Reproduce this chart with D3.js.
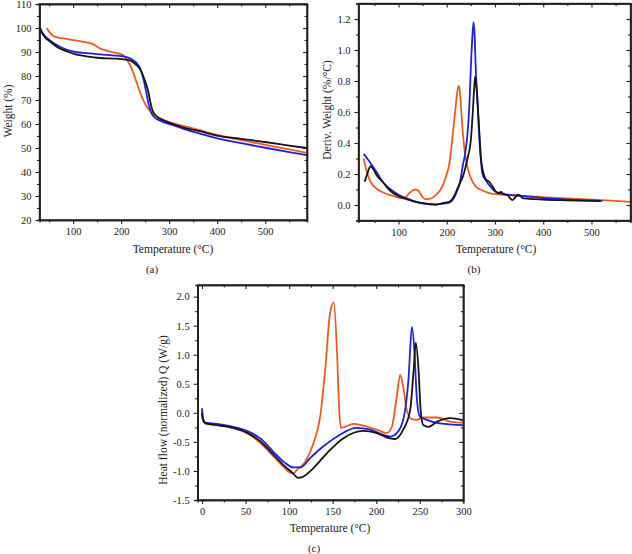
<!DOCTYPE html>
<html>
<head>
<meta charset="utf-8">
<script src="https://cdn.jsdelivr.net/npm/d3@7"></script>
<style>
  body { margin: 0; background: #fff; }
  text { font-family: "Liberation Serif", "DejaVu Serif", serif; fill: #222; }
  .domain { stroke: #222; stroke-width: 1.4; }
  .tick line { stroke: #222; stroke-width: 1.1; }
</style>
</head>
<body>
<script>
// TGA weight curves, panel (a): [temperature °C, weight %]
const tgaOrange = [[45,100],[50,98.5],[58,96.8],[70,96],[86,95.5],[105,94.8],[128,94],[142,93.2],[156,91.5],[175,90.3],[190,89.6],[205,88.5],[213,86.5],[220,84],[225,81.5],[232,77.5],[239,73.5],[246,70],[253,67.3],[260,65.5],[267,64.3],[280,62.5],[294,61.2],[330,59.2],[364,57.4],[400,55.5],[450,53.3],[503,51.2],[550,49.4],[587,48]];
const tgaBlue = [[30,100.5],[35,98.5],[42,96.5],[52,94.8],[65,93],[86,91],[105,90],[128,89.5],[156,89],[190,88.5],[210,88],[222,87],[232,85.5],[240,83],[246,79],[252,73.5],[257,68.5],[262,65],[268,63],[280,61.5],[308,59.5],[330,58],[364,56],[400,54],[450,52],[503,50],[550,48.3],[587,47]];
const tgaBlack = [[30,100],[35,98],[42,96],[52,94.4],[65,92.3],[86,90.3],[105,89],[128,88.2],[156,87.5],[190,87.2],[218,86.5],[232,84.5],[239,83],[246,80],[253,76],[257,73],[260,70],[264,66.5],[270,64],[280,62.3],[295,61],[308,60],[330,58.5],[364,57],[399,55.2],[450,53.8],[503,52.4],[550,51],[587,50]];

// DTG curves, panel (b): [temperature °C, deriv. weight %/°C]
const dtgOrange = [[28,0.30],[32,0.24],[39,0.17],[46,0.13],[53,0.11],[65,0.085],[81,0.065],[95,0.052],[108,0.043],[115,0.05],[122,0.075],[130,0.095],[136,0.10],[142,0.09],[150,0.05],[157,0.037],[165,0.04],[178,0.065],[191,0.12],[198,0.18],[205,0.26],[210,0.38],[214,0.5],[218,0.62],[221,0.71],[224.5,0.768],[227,0.74],[229,0.66],[232,0.52],[236,0.38],[240,0.29],[245,0.22],[252,0.16],[260,0.12],[270,0.1],[285,0.08],[300,0.07],[350,0.06],[400,0.05],[450,0.043],[500,0.035],[540,0.028],[580,0.02]];
const dtgBlue = [[28,0.33],[35,0.30],[42,0.27],[55,0.21],[67,0.15],[80,0.11],[101,0.065],[120,0.04],[136,0.02],[155,0.008],[170,0.003],[190,0.008],[205,0.015],[214,0.04],[220,0.08],[227,0.14],[233,0.25],[238,0.33],[243,0.46],[247,0.65],[250,0.89],[253,1.08],[255.5,1.18],[258,1.08],[260,0.89],[264,0.65],[267,0.46],[270,0.32],[274,0.2],[281,0.16],[290,0.12],[302,0.085],[320,0.07],[350,0.06],[400,0.045],[450,0.035],[500,0.03],[523,0.027]];
const dtgBlack = [[30,0.15],[35,0.2],[42,0.25],[48,0.23],[55,0.19],[67,0.15],[80,0.1],[101,0.055],[120,0.035],[136,0.02],[155,0.01],[170,0.005],[180,0.003],[191,0.012],[205,0.02],[214,0.05],[220,0.09],[227,0.14],[233,0.18],[243,0.3],[250,0.42],[254,0.6],[257,0.76],[259,0.83],[261,0.78],[264,0.66],[267,0.5],[271,0.3],[275,0.22],[280,0.17],[288,0.15],[295,0.12],[302,0.085],[308,0.075],[312,0.085],[318,0.07],[326,0.065],[331,0.045],[336,0.032],[341,0.045],[347,0.066],[352,0.06],[357,0.045],[370,0.04],[400,0.035],[450,0.03],[519,0.025]];

// DSC curves, panel (c): [temperature °C, heat flow W/g]
const dscOrange = [[0,0.05],[1,-0.12],[3.8,-0.18],[17,-0.21],[36,-0.26],[51.6,-0.35],[67,-0.52],[82,-0.75],[93.6,-0.93],[101,-1.03],[105,-1.04],[109,-0.98],[118.5,-0.84],[128,-0.52],[135.7,-0.06],[141.4,0.74],[147,1.72],[151.3,1.90],[155,1.03],[157.5,0.05],[159.4,-0.26],[164,-0.24],[174,-0.19],[185,-0.22],[200.6,-0.29],[212,-0.35],[218,-0.24],[223.6,0.28],[227.5,0.655],[231,0.45],[235,0.05],[241,-0.11],[246.5,-0.12],[254,-0.08],[270,-0.08],[284.8,-0.15],[300,-0.17]];
const dscBlue = [[0,0.08],[1,-0.1],[4,-0.17],[17,-0.19],[36,-0.24],[51.6,-0.31],[67,-0.44],[82,-0.67],[93.6,-0.84],[105,-0.94],[113,-0.94],[124,-0.78],[139,-0.58],[158,-0.38],[177,-0.26],[193,-0.29],[208,-0.38],[216,-0.41],[223.6,-0.35],[231,-0.12],[237,0.57],[241,1.48],[244,1.03],[246.5,0.28],[250,-0.06],[258,-0.12],[273,-0.18],[300,-0.21]];
const dscBlack = [[0,0.0],[1,-0.12],[4,-0.18],[17,-0.21],[36,-0.26],[51.6,-0.34],[67,-0.49],[82,-0.72],[93.6,-0.9],[105,-1.05],[110,-1.12],[116,-1.1],[128,-0.95],[143,-0.70],[162,-0.44],[185,-0.31],[200.6,-0.35],[216,-0.44],[221.6,-0.45],[231,-0.29],[239,0.05],[243,0.74],[245.5,1.21],[248.6,0.74],[251,0.05],[254,-0.21],[260,-0.24],[270,-0.15],[285,-0.09],[300,-0.13]];

// tick values
const tgaXTicks = [100, 200, 300, 400, 500];
const tgaYTicks = [20, 30, 40, 50, 60, 70, 80, 90, 100, 110];
const dtgXTicks = [100, 200, 300, 400, 500];
const dtgYTicks = [0.0, 0.2, 0.4, 0.6, 0.8, 1.0, 1.2];
const dscXTicks = [0, 50, 100, 150, 200, 250, 300];
const dscYTicks = [-1.5, -1.0, -0.5, 0.0, 0.5, 1.0, 1.5, 2.0];

const COLORS = { orange: "#f25a1d", blue: "#1f1fe6", black: "#151515" };

const svg = d3.select("body").append("svg")
    .attr("width", 632)
    .attr("height", 554);

// one framed panel with Origin-like ticks
function drawPanel(p) {
    const x = d3.scaleLinear().domain(p.xDomain).range(p.xRange);
    const y = d3.scaleLinear().domain(p.yDomain).range(p.yRange);
    const g = svg.append("g");

    const xMinor = d3.range(p.xDomain[0], p.xDomain[1], p.xMinorStep)
        .map(v => Math.ceil(v / p.xMinorStep) * p.xMinorStep)
        .filter(v => v >= p.xDomain[0] && v <= p.xDomain[1] && !p.xTicks.some(t => Math.abs(t - v) < 1e-6));
    const yMinor = d3.range(p.yDomain[0], p.yDomain[1] + 1e-9, p.yMinorStep)
        .map(v => Math.round(v / p.yMinorStep) * p.yMinorStep)
        .filter(v => v >= p.yDomain[0] - 1e-9 && v <= p.yDomain[1] + 1e-9 && !p.yTicks.some(t => Math.abs(t - v) < 1e-6));

    const fmtY = v => d3.format(p.yFormat)(v).replace("\u2212", "-");

    // minor ticks
    g.append("g").attr("transform", `translate(0,${p.yRange[0]})`)
        .call(d3.axisBottom(x).tickValues(xMinor).tickSize(2.5).tickFormat(""));
    g.append("g").attr("transform", `translate(0,${p.yRange[1]})`)
        .call(d3.axisBottom(x).tickValues(xMinor).tickSize(2.5).tickFormat(""));
    g.append("g").attr("transform", `translate(${p.xRange[0]},0)`)
        .call(d3.axisLeft(y).tickValues(yMinor).tickSize(2.5).tickFormat(""));
    g.append("g").attr("transform", `translate(${p.xRange[1]},0)`)
        .call(d3.axisLeft(y).tickValues(yMinor).tickSize(2.5).tickFormat(""));

    // major ticks
    g.append("g").attr("transform", `translate(0,${p.yRange[0]})`)
        .call(d3.axisBottom(x).tickValues(p.xTicks).tickSize(4).tickSizeOuter(0).tickPadding(4))
        .call(a => a.selectAll("text").attr("font-size", p.tickFont));
    g.append("g").attr("transform", `translate(0,${p.yRange[1]})`)
        .call(d3.axisBottom(x).tickValues(p.xTicks).tickSize(4).tickSizeOuter(0).tickFormat(""));
    g.append("g").attr("transform", `translate(${p.xRange[0]},0)`)
        .call(d3.axisLeft(y).tickValues(p.yTicks).tickSize(4).tickSizeOuter(0).tickPadding(4).tickFormat(fmtY))
        .call(a => a.selectAll("text").attr("font-size", p.tickFont));
    g.append("g").attr("transform", `translate(${p.xRange[1]},0)`)
        .call(d3.axisLeft(y).tickValues(p.yTicks).tickSize(4).tickSizeOuter(0).tickFormat(""));

    const clipId = "clip-" + p.tag;
    svg.append("clipPath").attr("id", clipId).append("rect")
        .attr("x", p.xRange[0]).attr("y", p.yRange[1])
        .attr("width", p.xRange[1] - p.xRange[0]).attr("height", p.yRange[0] - p.yRange[1]);

    const line = d3.line().x(d => x(d[0])).y(d => y(d[1])).curve(d3.curveMonotoneX);
    g.append("g").attr("clip-path", `url(#${clipId})`)
        .selectAll("path")
        .data(p.series)
        .enter()
        .append("path")
        .attr("d", d => line(d.values))
        .attr("fill", "none")
        .attr("stroke", d => d.color)
        .attr("stroke-width", 1.8)
        .attr("stroke-linejoin", "round");

    // frame
    g.append("rect")
        .attr("x", p.xRange[0]).attr("y", p.yRange[1])
        .attr("width", p.xRange[1] - p.xRange[0]).attr("height", p.yRange[0] - p.yRange[1])
        .attr("fill", "none").attr("stroke", "#222").attr("stroke-width", 1.4);

    g.append("text")
        .attr("x", p.xLabelPos[0]).attr("y", p.xLabelPos[1])
        .attr("text-anchor", "middle").attr("font-size", 11.5)
        .text("Temperature (°C)");
    g.append("text")
        .attr("transform", `translate(${p.yLabelPos[0]},${p.yLabelPos[1]}) rotate(-90)`)
        .attr("text-anchor", "middle").attr("font-size", 11.5)
        .text(p.yLabel);
    g.append("text")
        .attr("x", p.tagPos[0]).attr("y", p.tagPos[1])
        .attr("text-anchor", "middle").attr("font-size", 11)
        .text(`(${p.tag})`);
}

drawPanel({
    tag: "a",
    xDomain: [30, 587], xRange: [39.5, 307],
    yDomain: [20, 110], yRange: [220, 4],
    xTicks: tgaXTicks, yTicks: tgaYTicks, xMinorStep: 50, yMinorStep: 5,
    yFormat: "d", tickFont: 10.5,
    yLabel: "Weight (%)",
    xLabelPos: [173, 253], yLabelPos: [12, 111], tagPos: [152, 273],
    series: [
        { color: COLORS.orange, values: tgaOrange },
        { color: COLORS.blue, values: tgaBlue },
        { color: COLORS.black, values: tgaBlack }
    ]
});

drawPanel({
    tag: "b",
    xDomain: [17, 581], xRange: [358.5, 630.5],
    yDomain: [-0.1, 1.3], yRange: [220.5, 3.5],
    xTicks: dtgXTicks, yTicks: dtgYTicks, xMinorStep: 50, yMinorStep: 0.1,
    yFormat: ".1f", tickFont: 10.5,
    yLabel: "Deriv. Weight (%/°C)",
    xLabelPos: [496, 253], yLabelPos: [331, 110], tagPos: [474, 273],
    series: [
        { color: COLORS.orange, values: dtgOrange },
        { color: COLORS.blue, values: dtgBlue },
        { color: COLORS.black, values: dtgBlack }
    ]
});

drawPanel({
    tag: "c",
    xDomain: [-5, 300], xRange: [197.7, 463.3],
    yDomain: [-1.5, 2.2], yRange: [500, 285],
    xTicks: dscXTicks, yTicks: dscYTicks, xMinorStep: 25, yMinorStep: 0.25,
    yFormat: ".1f", tickFont: 10.5,
    yLabel: "Heat flow (normalized) Q (W/g)",
    xLabelPos: [330, 532], yLabelPos: [167, 410], tagPos: [314, 552],
    series: [
        { color: COLORS.orange, values: dscOrange },
        { color: COLORS.blue, values: dscBlue },
        { color: COLORS.black, values: dscBlack }
    ]
});
</script>
</body>
</html>
